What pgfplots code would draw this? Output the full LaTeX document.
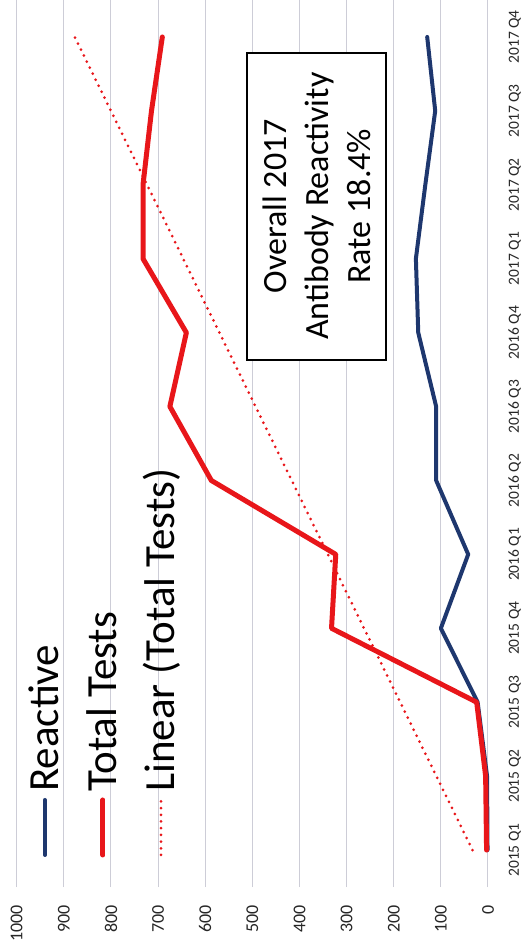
\documentclass[border=0pt]{standalone}
\usepackage{graphicx}
\usepackage{fontspec}
\setmainfont{Carlito}
\usepackage{pgfplots}
\usepackage{pgfplotstable}
\pgfplotsset{compat=1.18}

\definecolor{reactblue}{RGB}{30,55,110}
\definecolor{testred}{RGB}{232,22,26}
\definecolor{gridgray}{RGB}{205,205,215}

% quarterly antibody screening counts
\pgfplotstableread{
q total reactive
0  3    1
1  5    2
2  24   22
3  332  100
4  323  42
5  587  110
6  675  110
7  640  148
8  732  153
9  732  133
10 714  112
11 691  129
}\quarterdata

\tikzset{
  reactstyle/.style={reactblue, line width=4pt, line join=round, line cap=round},
  totalstyle/.style={testred, line width=5pt, line join=round, line cap=round},
  trendstyle/.style={testred, line width=3pt, line cap=round, dash pattern=on 0pt off 6.7pt},
  keytext/.style={anchor=base west, inner sep=0pt, font=\fontsize{43}{43}\selectfont},
}

\begin{document}
\rotatebox{90}{%
\begin{tikzpicture}
\useasboundingbox (0pt,0pt) rectangle (951pt,521pt);
\begin{axis}[
  at={(64pt,33pt)}, anchor=south west,
  scale only axis, width=887pt, height=471.3pt,
  xmin=-0.5, xmax=11.5, ymin=0, ymax=1000,
  xtick={0,...,11},
  xticklabels={2015 Q1,2015 Q2,2015 Q3,2015 Q4,2016 Q1,2016 Q2,2016 Q3,2016 Q4,2017 Q1,2017 Q2,2017 Q3,2017 Q4},
  ytick={0,100,...,1000},
  axis line style={draw=none},
  major tick length=0pt,
  ymajorgrids, grid style={gridgray, line width=1pt},
  /pgf/number format/assume math mode=true,
  /pgf/number format/1000 sep={},
  xticklabel style={font=\fontsize{15.5}{15.5}\selectfont, text=black!85, anchor=base, inner sep=0pt, yshift=-31pt},
  yticklabel style={font=\fontsize{18}{18}\selectfont, text=black!85, anchor=east, inner sep=0pt, xshift=-18pt},
  clip=false,
]
\addplot[reactstyle] table[x=q, y=reactive] {\quarterdata};
\addplot[totalstyle] table[x=q, y=total] {\quarterdata};
\addplot[trendstyle]
  table[x=q, y={create col/linear regression={y=total}}] {\quarterdata};

% key
\draw[reactstyle] (axis description cs:0.0361,0.9400) -- ++(55pt,0pt);
\node[keytext] at (axis description cs:0.1071,0.9108) {Reactive};
\draw[totalstyle] (axis description cs:0.0361,0.8169) -- ++(55pt,0pt);
\node[keytext] at (axis description cs:0.1071,0.7876) {Total Tests};
\draw[trendstyle] (axis description cs:0.0361,0.6938) -- ++(55pt,0pt);
\node[keytext] at (axis description cs:0.1071,0.6646) {Linear (Total Tests)};

\node[draw=black, line width=1.6pt, fill=white, minimum width=307pt, minimum height=139pt,
  align=center, font=\fontsize{34}{42}\selectfont]
  at (axis cs:8.71,364) {Overall 2017\\Antibody Reactivity\\Rate 18.4\%};
\end{axis}
\end{tikzpicture}}
\end{document}
